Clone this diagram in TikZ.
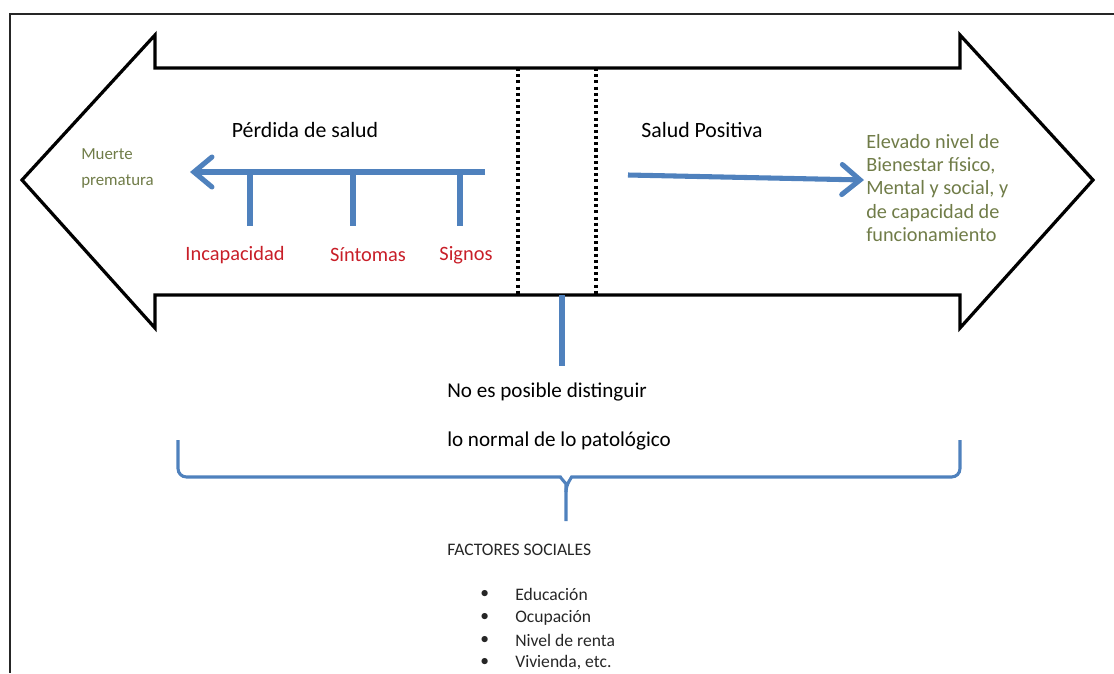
\documentclass[tikz,border=0pt]{standalone}
\usepackage{fontspec}
\setmainfont{Carlito}
\usepackage{tikz}
\usetikzlibrary{arrows.meta, positioning, calc}
\definecolor{saludblue}{RGB}{79, 129, 189}
\definecolor{saludred}{RGB}{200, 30, 40}
\definecolor{saludolive}{RGB}{112, 124, 72}

\begin{document}
\begin{tikzpicture}[x=0.025cm, y=-0.025cm,
          frame/.style={draw=black!85, line width=1.3pt},
          bigarrow/.style={draw=black, line width=2.3pt, line join=miter},
          divider/.style={draw=black, line width=2.2pt, dash pattern=on 2.2pt off 2.2pt},
          blueline/.style={draw=saludblue, line width=3.6pt},
          bluearrow/.style={blueline, -{Straight Barb[length=4.5mm, width=7.5mm, line cap=round]}},
          brace/.style={draw=saludblue, line width=2.2pt, rounded corners=6pt},
          heading/.style={font=\fontsize{15.5}{18}\selectfont, text=black},
          sign/.style={font=\fontsize{14.5}{17}\selectfont, text=saludred},
          note/.style={text=saludolive, align=left, anchor=west, inner sep=0pt},
          caption/.style={font=\fontsize{15}{18}\selectfont, anchor=west, inner sep=0pt},
          listitem/.style={font=\fontsize{12.5}{15}\selectfont, text=black!85, anchor=west, inner sep=0pt}
        ]
          \useasboundingbox (0,0) rectangle (1114,673);

          % Frame
          \draw[frame] (1114,14) -- (10,14) -- (10,673);

          % Double arrow
          \draw[bigarrow] (22,180) -- (155,35) -- (155,68) -- (960,68) -- (960,35) -- (1093,180)
                -- (960,328) -- (960,295) -- (155,295) -- (155,328) -- cycle;

          % Dotted dividers
          \draw[divider] (518,68) -- (518,295);
          \draw[divider] (596,68) -- (596,295);

          % Headings
          \node[heading] (loss) at (305,130) {Pérdida de salud};
          \node[heading] (positive) at (702,130) {Salud Positiva};

          % Loss of health
          \coordinate (lossstart) at (485,172);
          \coordinate (lossend) at (190,172);
          \draw[bluearrow] (lossstart) -- (lossend);
          \coordinate (tick1) at (250,172);
          \coordinate (tick2) at (353,172);
          \coordinate (tick3) at (460,172);
          \draw[blueline] (tick1) -- ++(0,54);
          \draw[blueline] (tick2) -- ++(0,54);
          \draw[blueline] (tick3) -- ++(0,54);
          \node[sign] (incap) at (235,255) {Incapacidad};
          \node[sign] (sintomas) at (368,255) {Síntomas};
          \node[sign] (signos) at (466,255) {Signos};
          \node[note, font=\fontsize{12}{18.5}\selectfont] (death) at (81,168) {Muerte\\prematura};

          % Positive health
          \coordinate (posstart) at (628,175);
          \coordinate (posend) at (864,180);
          \draw[bluearrow] (posstart) -- (posend);
          \node[note, font=\fontsize{14.4}{16.4}\selectfont] (wellbeing) at (866,188) {Elevado nivel de\\Bienestar físico,\\Mental y social, y\\de capacidad de\\funcionamiento};

          % Grey zone
          \coordinate (zonetop) at (562,295);
          \coordinate (zonebot) at (562,366);
          \draw[blueline] (zonetop) -- (zonebot);
          \node[caption] (nodist) at (447,392) {No es posible distinguir};
          \node[caption] (normal) at (447,441) {lo normal de lo patológico};

          % Brace
          \coordinate (braceleft) at (178,440);
          \coordinate (braceright) at (960,440);
          \coordinate (bracetip) at (566,492);
          \draw[brace] (braceleft) -- (178,477) -- (552,477) to[out=0, in=90] (bracetip) -- (566,521);
          \draw[brace] (braceright) -- (960,477) -- (580,477) to[out=180, in=90] (bracetip);

          % Social factors
          \node[listitem] (factors) at (447,550) {FACTORES SOCIALES};
          \foreach \txt [count=\i] in {Educación, Ocupación, Nivel de renta, {Vivienda, etc.}} {
            \node[listitem] (bullet\i) at (480,{572+22.7*\i}) {\textbullet};
            \node[listitem] (item\i) at (515,{572+22.7*\i}) {\txt};
          }
        \end{tikzpicture}
\end{document}
